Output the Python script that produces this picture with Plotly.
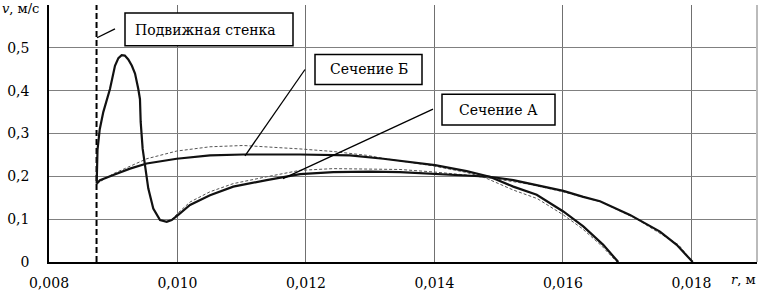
import plotly.graph_objects as go

# ---- data ----
wall_r = 0.00874
y_range = [0.0, 0.6]
x_range = [0.008, 0.01902]
x_ticks = [0.008, 0.010, 0.012, 0.014, 0.016, 0.018]
x_tick_labels = ["0,008", "0,010", "0,012", "0,014", "0,016", "0,018"]
y_ticks = [0, 0.1, 0.2, 0.3, 0.4, 0.5, 0.6]
y_tick_labels = ["0", "0,1", "0,2", "0,3", "0,4", "0,5", ""]

secA_r = [0.008742, 0.008755, 0.008790, 0.008845, 0.008949, 0.009027, 0.009080, 0.009131,
          0.009180, 0.009234, 0.009290, 0.009339, 0.009390, 0.009416, 0.009427, 0.009458,
          0.009494, 0.009545, 0.009623, 0.009728, 0.009832, 0.009910, 0.010012, 0.010195,
          0.010506, 0.010868, 0.011388, 0.011907, 0.012425, 0.013000, 0.013463, 0.013977,
          0.014506, 0.014860, 0.015227, 0.015591, 0.016005, 0.016316, 0.016576, 0.017043,
          0.017510, 0.017770, 0.018019]
secA_v = [0.183, 0.262, 0.310, 0.350, 0.404, 0.458, 0.476, 0.483,
          0.482, 0.473, 0.458, 0.440, 0.404, 0.380, 0.327, 0.264,
          0.226, 0.172, 0.125, 0.098, 0.094, 0.098, 0.110, 0.133,
          0.156, 0.176, 0.191, 0.205, 0.210, 0.211, 0.210, 0.206,
          0.203, 0.199, 0.191, 0.180, 0.166, 0.152, 0.142, 0.110,
          0.071, 0.040, 0.0]

secB_r = [0.008742, 0.008794, 0.009001, 0.009261, 0.009521, 0.009988, 0.010506, 0.011024,
          0.011907, 0.012685, 0.013203, 0.013619, 0.014008, 0.014501, 0.014860, 0.015227,
          0.015591, 0.016005, 0.016316, 0.016627, 0.016861]
secB_v = [0.183, 0.191, 0.203, 0.218, 0.230, 0.241, 0.249, 0.251,
          0.251, 0.249, 0.241, 0.233, 0.226, 0.212, 0.199, 0.176,
          0.157, 0.118, 0.083, 0.040, 0.0]

calcA_r = [0.009832, 0.009910, 0.010012, 0.010195, 0.010506, 0.010868, 0.011388, 0.011907,
           0.012425, 0.013463, 0.014000, 0.014500, 0.015000, 0.015500, 0.016000, 0.016600,
           0.017150, 0.017800, 0.018020]
calcA_v = [0.095, 0.099, 0.115, 0.140, 0.164, 0.183, 0.199, 0.214,
           0.218, 0.216, 0.210, 0.203, 0.193, 0.181, 0.164, 0.140,
           0.100, 0.040, 0.0]

calcB_r = [0.008742, 0.009001, 0.009521, 0.009988, 0.010506, 0.011024, 0.011907, 0.012425,
           0.012945, 0.013200, 0.013600, 0.014000, 0.014500, 0.014800, 0.015227, 0.015600,
           0.016005, 0.016300, 0.016600, 0.016840]
calcB_v = [0.183, 0.206, 0.241, 0.259, 0.269, 0.272, 0.264, 0.258,
           0.249, 0.242, 0.233, 0.224, 0.209, 0.196, 0.168, 0.148,
           0.110, 0.078, 0.038, 0.0]

label_wall = "Подвижная стенка"
label_B = "Сечение Б"
label_A = "Сечение А"

FONT = "DejaVu Serif"

fig = go.Figure()

# wall
fig.add_trace(go.Scatter(x=[wall_r, wall_r], y=y_range, mode="lines",
                         line=dict(color="black", width=2, dash="6px,3px"),
                         hoverinfo="skip"))
# calculated (thin dashed)
fig.add_trace(go.Scatter(x=calcB_r, y=calcB_v, mode="lines",
                         line=dict(color="#555555", width=1, dash="3px,2px")))
fig.add_trace(go.Scatter(x=calcA_r, y=calcA_v, mode="lines",
                         line=dict(color="#555555", width=1, dash="3px,2px")))
# measured (thick solid)
fig.add_trace(go.Scatter(x=secB_r, y=secB_v, mode="lines",
                         line=dict(color="#111111", width=2.2)))
fig.add_trace(go.Scatter(x=secA_r, y=secA_v, mode="lines",
                         line=dict(color="#111111", width=2.2)))

# pixel helpers for callouts (plot area 49..757 x 5..264)
L, R, T, B = 49, 757, 5, 264
def px(x):
    return (x - L) / (R - L)
def py(y):
    return (B - y) / (B - T)

shapes = []
def box(x0, y0, x1, y1):
    shapes.append(dict(type="rect", xref="paper", yref="paper",
                       x0=px(x0), x1=px(x1), y0=py(y1), y1=py(y0),
                       line=dict(color="black", width=1.5), fillcolor="white", layer="above"))
def seg(x0, y0, x1, y1):
    shapes.append(dict(type="line", xref="paper", yref="paper",
                       x0=px(x0), x1=px(x1), y0=py(y0), y1=py(y1),
                       line=dict(color="black", width=1.3), layer="above"))

box(125, 13, 293, 46)
seg(97, 38, 115, 29)
box(315, 55, 422, 85)
seg(245, 157, 305, 70)
box(442, 95, 555, 126)
seg(283, 180, 433, 110)
# right border
shapes.append(dict(type="line", xref="paper", yref="paper", x0=1, x1=1, y0=0, y1=1,
                   line=dict(color="#bbbbbb", width=2)))

def lab(text, x, y, xanchor="center", size=14):
    return dict(text=text, xref="paper", yref="paper", x=px(x), y=py(y),
                xanchor=xanchor, yanchor="middle", showarrow=False,
                font=dict(family=FONT, size=size, color="black"))

annotations = [
    lab(label_wall, 205, 30),
    lab(label_B, 368.5, 70),
    lab(label_A, 498.5, 110.5),
    lab("<i>v</i>, м/с", 41, 9, xanchor="right", size=13),
    lab("<i>r</i>, м", 729, 282, xanchor="left", size=13),
]

fig.update_layout(
    width=760, height=294,
    margin=dict(l=L, r=760 - R, t=T, b=294 - B, pad=0),
    paper_bgcolor="white", plot_bgcolor="white",
    showlegend=False,
    font=dict(family=FONT, size=14, color="black"),
    shapes=shapes, annotations=annotations,
    xaxis=dict(range=x_range, tickvals=x_ticks, ticktext=x_tick_labels,
               showgrid=True, gridcolor="#707070", gridwidth=1,
               showline=True, linecolor="black", linewidth=1.5,
               ticks="outside", ticklen=7, tickcolor="rgba(0,0,0,0)",
               zeroline=False, tickfont=dict(family=FONT, size=14)),
    yaxis=dict(range=y_range, tickvals=y_ticks, ticktext=y_tick_labels,
               showgrid=True, gridcolor="#808080", gridwidth=1,
               showline=True, linecolor="black", linewidth=1.5,
               ticks="outside", ticklen=15, tickcolor="rgba(0,0,0,0)",
               zeroline=False, tickfont=dict(family=FONT, size=14)),
)

fig.write_html("out.html", config={"displayModeBar": False},
               post_script="document.body.style.margin='0';document.body.style.padding='0';")
